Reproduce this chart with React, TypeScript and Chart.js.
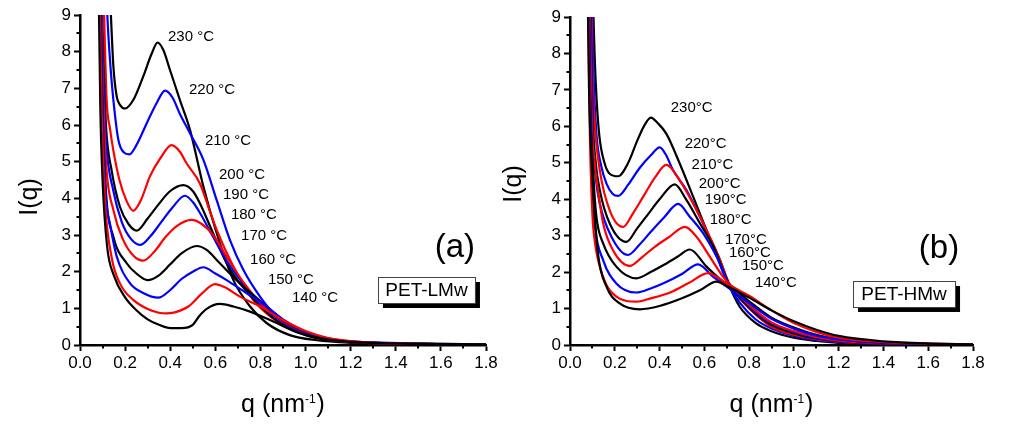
import React, { useEffect, useRef } from "react";
import { Chart, registerables } from "chart.js";

Chart.register(...registerables);

const FONT = '"Liberation Sans", Arial, Helvetica, sans-serif';

// Temperatures (°C) and line colours, from lowest to highest
const TEMPS = [140, 150, 160, 170, 180, 190, 200, 210, 220, 230];
const LINE_COLORS = ["#000000", "#ff0000", "#0000ff", "#000000", "#ff0000", "#0000ff", "#000000", "#ff0000", "#0000ff", "#000000"];

// Axis ticks
const X_MAJOR_STEP = 0.2;
const Y_MAJOR_STEP = 1;
const X_MINOR = [0.1, 0.3, 0.5, 0.7, 0.9, 1.1, 1.3, 1.5, 1.7];
const Y_MINOR = [0.5, 1.5, 2.5, 3.5, 4.5, 5.5, 6.5, 7.5, 8.5];

// ---------- Panel (a) PET-LMw ----------
const A140_Q = [0.08, 0.09, 0.1, 0.12, 0.15, 0.2, 0.25, 0.3, 0.35, 0.4, 0.45, 0.5, 0.53, 0.56, 0.62, 0.68, 0.754, 0.857, 0.975, 1.1, 1.25, 1.5, 1.8];
const A140_I = [11, 6.5, 4.5, 2.7, 1.9, 1.3, 0.95, 0.7, 0.55, 0.46, 0.46, 0.55, 0.8, 0.98, 1.12, 1.05, 0.91, 0.64, 0.32, 0.15, 0.07, 0.03, 0.02];
const A150_Q = [0.083, 0.095, 0.11, 0.14, 0.177, 0.236, 0.3, 0.35, 0.384, 0.42, 0.48, 0.54, 0.598, 0.64, 0.709, 0.8, 0.9, 1.0, 1.1, 1.25, 1.5, 1.8];
const A150_I = [11, 6.5, 4.0, 2.4, 1.68, 1.23, 0.98, 0.88, 0.86, 0.89, 1.05, 1.4, 1.66, 1.58, 1.32, 1.05, 0.68, 0.38, 0.19, 0.08, 0.03, 0.02];
const A160_Q = [0.085, 0.1, 0.115, 0.133, 0.163, 0.222, 0.28, 0.347, 0.4, 0.45, 0.5, 0.547, 0.6, 0.65, 0.739, 0.8, 0.9, 1.0, 1.1, 1.25, 1.5, 1.8];
const A160_I = [11, 6.0, 4.0, 3.3, 2.41, 1.68, 1.42, 1.29, 1.5, 1.8, 2.0, 2.12, 1.95, 1.77, 1.41, 1.18, 0.7, 0.36, 0.18, 0.07, 0.03, 0.02];
const A170_Q = [0.086, 0.1, 0.115, 0.148, 0.207, 0.25, 0.3, 0.35, 0.4, 0.45, 0.517, 0.56, 0.62, 0.709, 0.8, 0.9, 1.0, 1.1, 1.25, 1.5, 1.8];
const A170_I = [11, 6.5, 4.2, 2.95, 2.23, 1.95, 1.77, 1.9, 2.2, 2.5, 2.7, 2.6, 2.23, 1.68, 1.2, 0.68, 0.35, 0.17, 0.07, 0.03, 0.02];
const A180_Q = [0.087, 0.1, 0.115, 0.148, 0.192, 0.235, 0.28, 0.33, 0.38, 0.43, 0.495, 0.54, 0.59, 0.65, 0.72, 0.8, 0.9, 1.0, 1.1, 1.25, 1.5, 1.8];
const A180_I = [11, 7.3, 5.0, 3.68, 2.86, 2.45, 2.3, 2.55, 2.95, 3.25, 3.41, 3.3, 3.0, 2.41, 1.75, 1.15, 0.65, 0.34, 0.16, 0.07, 0.03, 0.02];
const A190_Q = [0.088, 0.1, 0.115, 0.148, 0.185, 0.225, 0.266, 0.31, 0.36, 0.41, 0.465, 0.5, 0.532, 0.59, 0.65, 0.72, 0.8, 0.9, 1.0, 1.1, 1.25, 1.5, 1.8];
const A190_I = [11, 7.8, 5.6, 4.2, 3.36, 2.9, 2.73, 2.95, 3.35, 3.75, 4.07, 3.9, 3.6, 2.95, 2.3, 1.7, 1.12, 0.62, 0.32, 0.15, 0.07, 0.03, 0.02];
const A200_Q = [0.09, 0.1, 0.115, 0.14, 0.177, 0.215, 0.251, 0.3, 0.35, 0.4, 0.458, 0.5, 0.532, 0.59, 0.65, 0.709, 0.8, 0.9, 1.0, 1.1, 1.25, 1.5, 1.8];
const A200_I = [11, 8.5, 6.0, 4.77, 3.77, 3.3, 3.12, 3.45, 3.85, 4.2, 4.36, 4.2, 3.86, 3.05, 2.23, 1.68, 1.05, 0.55, 0.27, 0.13, 0.06, 0.03, 0.02];
const A210_Q = [0.095, 0.105, 0.118, 0.133, 0.148, 0.175, 0.205, 0.236, 0.27, 0.31, 0.355, 0.406, 0.443, 0.473, 0.532, 0.569, 0.606, 0.68, 0.768, 0.85, 0.95, 1.05, 1.2, 1.4, 1.8];
const A210_I = [12, 9.5, 6.7, 5.9, 5.3, 4.5, 3.95, 3.66, 3.95, 4.6, 5.08, 5.45, 5.27, 4.95, 4.4, 3.77, 3.14, 2.14, 1.23, 0.75, 0.4, 0.2, 0.08, 0.04, 0.02];
const A220_Q = [0.105, 0.115, 0.121, 0.135, 0.148, 0.17, 0.195, 0.219, 0.25, 0.296, 0.34, 0.377, 0.41, 0.443, 0.488, 0.547, 0.606, 0.665, 0.724, 0.798, 0.872, 0.975, 1.12, 1.3, 1.5, 1.8];
const A220_I = [13, 10, 9, 7.6, 6.68, 5.6, 5.25, 5.2, 5.45, 6.05, 6.6, 6.94, 6.75, 6.3, 5.77, 5.05, 3.95, 2.86, 2.05, 1.32, 0.77, 0.36, 0.14, 0.07, 0.04, 0.02];
const A230_Q = [0.12, 0.13, 0.137, 0.148, 0.163, 0.177, 0.2, 0.236, 0.28, 0.318, 0.344, 0.369, 0.399, 0.443, 0.488, 0.547, 0.606, 0.68, 0.754, 0.827, 0.93, 1.05, 1.2, 1.4, 1.8];
const A230_I = [12, 10, 9, 7.6, 6.77, 6.55, 6.45, 6.68, 7.32, 7.95, 8.25, 8.05, 7.5, 6.68, 5.86, 4.32, 3.05, 1.77, 1.05, 0.6, 0.27, 0.13, 0.06, 0.03, 0.02];

const A_Q = [A140_Q, A150_Q, A160_Q, A170_Q, A180_Q, A190_Q, A200_Q, A210_Q, A220_Q, A230_Q];
const A_I = [A140_I, A150_I, A160_I, A170_I, A180_I, A190_I, A200_I, A210_I, A220_I, A230_I];

// Label anchors (left edge, middle) for panel (a), in data units
const A_LABELS = ["140 °C", "150 °C", "160 °C", "170 °C", "180 °C", "190 °C", "200 °C", "210 °C", "220 °C", "230 °C"];
const A_LABEL_Q = [0.94, 0.833, 0.754, 0.714, 0.669, 0.634, 0.616, 0.554, 0.483, 0.39];
const A_LABEL_I = [1.28, 1.77, 2.32, 2.97, 3.55, 4.09, 4.64, 5.56, 6.95, 8.4];

// ---------- Panel (b) PET-HMw ----------
const B140_Q = [0.074, 0.085, 0.095, 0.103, 0.125, 0.163, 0.222, 0.312, 0.4, 0.5, 0.58, 0.654, 0.706, 0.8, 0.9, 1.0, 1.1, 1.2, 1.4, 1.6, 1.8];
const B140_I = [12, 7.0, 5.2, 4.25, 2.51, 1.6, 1.14, 0.98, 1.07, 1.28, 1.5, 1.74, 1.6, 1.3, 0.95, 0.65, 0.42, 0.25, 0.1, 0.04, 0.02];
const B150_Q = [0.076, 0.088, 0.1, 0.11, 0.148, 0.207, 0.297, 0.36, 0.45, 0.53, 0.617, 0.66, 0.7, 0.8, 0.9, 1.0, 1.1, 1.2, 1.4, 1.6, 1.8];
const B150_I = [12, 6.0, 3.6, 2.88, 1.87, 1.33, 1.19, 1.28, 1.45, 1.7, 1.97, 1.85, 1.69, 1.35, 0.95, 0.6, 0.36, 0.2, 0.08, 0.04, 0.02];
const B160_Q = [0.078, 0.09, 0.1, 0.11, 0.148, 0.207, 0.297, 0.36, 0.42, 0.5, 0.572, 0.64, 0.7, 0.8, 0.9, 1.0, 1.1, 1.2, 1.4, 1.6, 1.8];
const B160_I = [12, 6.5, 4.3, 3.34, 2.33, 1.69, 1.44, 1.55, 1.7, 1.95, 2.21, 1.87, 1.6, 1.15, 0.72, 0.45, 0.26, 0.15, 0.06, 0.03, 0.02];
const B170_Q = [0.08, 0.09, 0.105, 0.118, 0.148, 0.207, 0.297, 0.36, 0.42, 0.48, 0.535, 0.61, 0.684, 0.72, 0.8, 0.9, 1.0, 1.1, 1.2, 1.4, 1.6, 1.8];
const B170_I = [12, 7.0, 4.6, 3.52, 2.79, 2.15, 1.83, 2.0, 2.2, 2.42, 2.62, 2.15, 1.74, 1.62, 1.2, 0.75, 0.48, 0.28, 0.16, 0.06, 0.03, 0.02];
const B180_Q = [0.082, 0.095, 0.11, 0.125, 0.148, 0.192, 0.267, 0.32, 0.38, 0.44, 0.513, 0.565, 0.625, 0.684, 0.72, 0.8, 0.9, 1.0, 1.1, 1.2, 1.4, 1.6, 1.8];
const B180_I = [12, 6.5, 5.0, 4.25, 3.34, 2.6, 2.17, 2.4, 2.7, 2.95, 3.24, 2.97, 2.42, 1.87, 1.62, 1.1, 0.62, 0.38, 0.22, 0.12, 0.05, 0.02, 0.02];
const B190_Q = [0.083, 0.1, 0.115, 0.133, 0.185, 0.259, 0.31, 0.36, 0.42, 0.483, 0.535, 0.595, 0.655, 0.71, 0.78, 0.85, 0.9, 1.0, 1.1, 1.2, 1.4, 1.6, 1.8];
const B190_I = [12, 6.0, 4.6, 3.88, 2.97, 2.47, 2.75, 3.1, 3.5, 3.87, 3.52, 3.06, 2.42, 1.68, 1.2, 0.8, 0.6, 0.36, 0.2, 0.11, 0.05, 0.02, 0.02];
const B200_Q = [0.085, 0.1, 0.115, 0.133, 0.177, 0.252, 0.3, 0.35, 0.4, 0.468, 0.52, 0.58, 0.64, 0.71, 0.78, 0.85, 0.9, 1.0, 1.1, 1.2, 1.4, 1.6, 1.8];
const B200_I = [12, 6.5, 5.0, 4.25, 3.34, 2.83, 3.2, 3.6, 4.0, 4.41, 3.98, 3.34, 2.7, 1.68, 1.15, 0.75, 0.55, 0.32, 0.18, 0.1, 0.04, 0.02, 0.02];
const B210_Q = [0.088, 0.1, 0.11, 0.133, 0.177, 0.237, 0.28, 0.33, 0.38, 0.43, 0.49, 0.55, 0.61, 0.67, 0.71, 0.77, 0.84, 0.9, 1.0, 1.1, 1.2, 1.4, 1.6, 1.8];
const B210_I = [12, 7.5, 6.1, 4.8, 3.7, 3.24, 3.6, 4.1, 4.6, 4.94, 4.52, 3.88, 3.15, 2.33, 1.7, 1.2, 0.78, 0.5, 0.28, 0.16, 0.09, 0.04, 0.02, 0.02];
const B220_Q = [0.09, 0.105, 0.118, 0.14, 0.163, 0.19, 0.215, 0.26, 0.31, 0.36, 0.401, 0.43, 0.46, 0.52, 0.58, 0.64, 0.7, 0.76, 0.83, 0.9, 1.0, 1.1, 1.2, 1.4, 1.6, 1.8];
const B220_I = [12, 7.5, 5.8, 4.9, 4.43, 4.15, 4.09, 4.4, 4.85, 5.2, 5.42, 5.2, 4.8, 4.25, 3.52, 2.7, 1.75, 1.15, 0.7, 0.45, 0.25, 0.14, 0.08, 0.04, 0.02, 0.02];
const B230_Q = [0.095, 0.105, 0.115, 0.13, 0.155, 0.177, 0.215, 0.26, 0.3, 0.33, 0.361, 0.39, 0.43, 0.49, 0.55, 0.61, 0.67, 0.71, 0.758, 0.83, 0.9, 1.0, 1.1, 1.2, 1.4, 1.6, 1.8];
const B230_I = [12, 9, 7.2, 5.8, 4.98, 4.7, 4.63, 5.0, 5.6, 6.0, 6.24, 6.1, 5.8, 4.98, 4.07, 3.15, 2.33, 1.65, 1.05, 0.6, 0.38, 0.2, 0.11, 0.06, 0.03, 0.02, 0.02];

const B_Q = [B140_Q, B150_Q, B160_Q, B170_Q, B180_Q, B190_Q, B200_Q, B210_Q, B220_Q, B230_Q];
const B_I = [B140_I, B150_I, B160_I, B170_I, B180_I, B190_I, B200_I, B210_I, B220_I, B230_I];

const B_LABELS = ["140°C", "150°C", "160°C", "170°C", "180°C", "190°C", "200°C", "210°C", "220°C", "230°C"];
const B_LABEL_Q = [0.826, 0.768, 0.71, 0.692, 0.624, 0.602, 0.575, 0.543, 0.512, 0.45];
const B_LABEL_I = [1.71, 2.17, 2.53, 2.88, 3.43, 3.99, 4.43, 4.93, 5.51, 6.52];

type PanelCfg = {
  left: number; // canvas left in page
  width: number;
  area: { left: number; right: number; top: number; bottom: number }; // page px
  qs: number[][];
  is: number[][];
  labels: string[];
  labelQ: number[];
  labelI: number[];
  letter: string;
  letterQ: number;
  letterI: number;
  box: string;
  boxQ: number;
  boxI: number;
  boxW: number;
  yTitleX: number; // page px
  yTitleY: number;
};

const PANELS: PanelCfg[] = [
  {
    left: 0, width: 500,
    area: { left: 80, right: 486, top: 15, bottom: 345 },
    qs: A_Q, is: A_I,
    labels: A_LABELS, labelQ: A_LABEL_Q, labelI: A_LABEL_I,
    letter: "(a)", letterQ: 1.662, letterI: 2.65,
    box: "PET-LMw", boxQ: 1.536, boxI: 1.5, boxW: 97,
    yTitleX: 30, yTitleY: 197,
  },
  {
    left: 492, width: 532,
    area: { left: 570, right: 973, top: 17, bottom: 345 },
    qs: B_Q, is: B_I,
    labels: B_LABELS, labelQ: B_LABEL_Q, labelI: B_LABEL_I,
    letter: "(b)", letterQ: 1.648, letterI: 2.65,
    box: "PET-HMw", boxQ: 1.492, boxI: 1.4, boxW: 102,
    yTitleX: 514, yTitleY: 184,
  },
];

const H = 442;

function makeDeco(cfg: PanelCfg) {
  return {
    id: "deco",
    afterDraw(chart: any) {
      const ctx: CanvasRenderingContext2D = chart.ctx;
      const xs = chart.scales.x;
      const ys = chart.scales.y;
      const ca = chart.chartArea;
      ctx.save();
      // minor ticks
      ctx.strokeStyle = "#000";
      ctx.lineWidth = 2;
      ctx.beginPath();
      for (const v of X_MINOR) {
        const px = Math.round(xs.getPixelForValue(v));
        ctx.moveTo(px, ca.bottom);
        ctx.lineTo(px, ca.bottom + 3.5);
      }
      for (const v of Y_MINOR) {
        const py = Math.round(ys.getPixelForValue(v));
        ctx.moveTo(ca.left, py);
        ctx.lineTo(ca.left - 3.5, py);
      }
      ctx.stroke();

      // temperature labels
      ctx.fillStyle = "#000";
      ctx.font = `15px ${FONT}`;
      ctx.textAlign = "left";
      ctx.textBaseline = "middle";
      cfg.labels.forEach((t, i) => {
        ctx.fillText(t, xs.getPixelForValue(cfg.labelQ[i]), ys.getPixelForValue(cfg.labelI[i]));
      });

      // panel letter
      ctx.font = `33px ${FONT}`;
      ctx.textAlign = "center";
      ctx.fillText(cfg.letter, xs.getPixelForValue(cfg.letterQ), ys.getPixelForValue(cfg.letterI));

      // sample box with shadow
      const bx = xs.getPixelForValue(cfg.boxQ);
      const by = ys.getPixelForValue(cfg.boxI);
      const bw = cfg.boxW;
      const bh = 26;
      ctx.fillStyle = "#000";
      ctx.fillRect(bx - bw / 2 + 5, by - bh / 2 + 5, bw, bh);
      ctx.fillStyle = "#fff";
      ctx.fillRect(bx - bw / 2, by - bh / 2, bw, bh);
      ctx.strokeStyle = "#444";
      ctx.lineWidth = 1;
      ctx.strokeRect(Math.round(bx - bw / 2) + 0.5, Math.round(by - bh / 2) + 0.5, bw, bh);
      ctx.fillStyle = "#000";
      ctx.font = `19px ${FONT}`;
      ctx.fillText(cfg.box, bx, by + 1);

      // y title
      ctx.save();
      ctx.translate(cfg.yTitleX - cfg.left, cfg.yTitleY);
      ctx.rotate(-Math.PI / 2);
      ctx.font = `25px ${FONT}`;
      ctx.textAlign = "center";
      ctx.textBaseline = "middle";
      ctx.fillText("I(q)", 0, 0);
      ctx.restore();

      // x title with superscript
      const main1 = "q (nm";
      const sup = "-1";
      const main2 = ")";
      ctx.textAlign = "left";
      ctx.textBaseline = "alphabetic";
      ctx.font = `25px ${FONT}`;
      const w1 = ctx.measureText(main1).width;
      const w3 = ctx.measureText(main2).width;
      ctx.font = `12px ${FONT}`;
      const w2 = ctx.measureText(sup).width;
      const total = w1 + w2 + w3 + 1;
      const cx = (ca.left + ca.right) / 2;
      let x0 = cx - total / 2;
      const base = 412;
      ctx.font = `25px ${FONT}`;
      ctx.fillText(main1, x0, base);
      x0 += w1;
      ctx.font = `12px ${FONT}`;
      ctx.fillText(sup, x0, base - 9);
      x0 += w2 + 1;
      ctx.font = `25px ${FONT}`;
      ctx.fillText(main2, x0, base);
      ctx.restore();
    },
  };
}

function Panel({ cfg }: { cfg: PanelCfg }) {
  const ref = useRef<HTMLCanvasElement | null>(null);
  useEffect(() => {
    if (!ref.current) return;
    const datasets = cfg.qs.map((q, k) => ({
      label: `${TEMPS[k]} °C`,
      data: q.map((x, i) => ({ x, y: cfg.is[k][i] })),
      borderColor: LINE_COLORS[k],
      backgroundColor: LINE_COLORS[k],
      borderWidth: 2.2,
      pointRadius: 0,
      fill: false,
      cubicInterpolationMode: "monotone" as const,
      clip: 0,
    }));
    const leftW = cfg.area.left - cfg.left;
    const rightPad = cfg.left + cfg.width - cfg.area.right;
    const tickFont = { family: FONT, size: 17 };
    const chart = new Chart(ref.current, {
      type: "line",
      data: { datasets },
      options: {
        responsive: false,
        animation: false,
        devicePixelRatio: 1,
        layout: { padding: { left: 0, top: cfg.area.top, right: rightPad, bottom: 0 } },
        plugins: { legend: { display: false }, tooltip: { enabled: false } },
        events: [],
        scales: {
          x: {
            type: "linear",
            min: 0,
            max: 1.8,
            afterFit: (s: any) => { s.height = H - cfg.area.bottom; },
            ticks: {
              stepSize: X_MAJOR_STEP,
              color: "#000",
              font: tickFont,
              padding: 2,
              maxRotation: 0,
              autoSkip: false,
              callback: (v: any) => Number(v).toFixed(1),
            },
            grid: { display: true, drawOnChartArea: false, drawTicks: true, tickLength: 6, tickWidth: 2, tickColor: "#000" },
            border: { display: true, color: "#000", width: 2.5 },
          },
          y: {
            type: "linear",
            min: 0,
            max: 9,
            afterFit: (s: any) => { s.width = leftW; },
            ticks: {
              stepSize: Y_MAJOR_STEP,
              color: "#000",
              font: tickFont,
              padding: 3,
              autoSkip: false,
            },
            grid: { display: true, drawOnChartArea: false, drawTicks: true, tickLength: 6, tickWidth: 2, tickColor: "#000" },
            border: { display: true, color: "#000", width: 2.5 },
          },
        },
      },
      plugins: [makeDeco(cfg)],
    } as any);
    return () => chart.destroy();
  }, [cfg]);
  return (
    <canvas
      ref={ref}
      width={cfg.width}
      height={H}
      style={{ position: "absolute", left: cfg.left, top: 0, width: cfg.width, height: H }}
    />
  );
}

export default function App() {
  return (
    <div style={{ position: "absolute", left: 0, top: 0, width: 1024, height: H, background: "#fff", overflow: "hidden" }}>
      {PANELS.map((p, i) => (
        <Panel key={i} cfg={p} />
      ))}
    </div>
  );
}
